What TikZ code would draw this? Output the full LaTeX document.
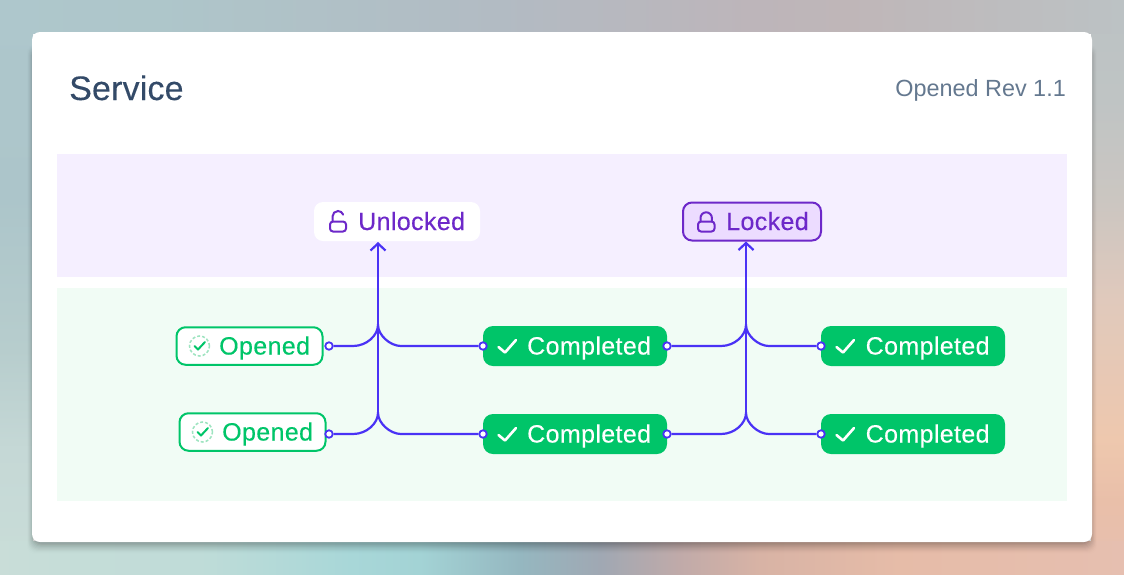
\documentclass[tikz,border=0pt]{standalone}
\usepackage{fontspec}
\setmainfont{Liberation Sans}
\newfontfamily\medfont[LetterSpace=1.5,FakeBold=.25]{Liberation Sans}
\newfontfamily\titlefont[LetterSpace=.5,FakeBold=.2]{Liberation Sans}
\usetikzlibrary{arrows.meta}
\definecolor{cardgreen}{HTML}{00C569}
\definecolor{lightgreen}{HTML}{9EE4C0}
\definecolor{bandgreen}{HTML}{F1FCF5}
\definecolor{bandpurple}{HTML}{F5EFFF}
\definecolor{lockfill}{HTML}{ECDCFF}
\definecolor{purpletext}{HTML}{6D28C9}
\definecolor{linkblue}{HTML}{4A32F5}
\definecolor{titleblue}{HTML}{334A68}
\definecolor{revgray}{HTML}{64788F}
\pgfdeclarehorizontalshading{bgtop}{100bp}{rgb(0bp)=(.682,.78,.8);rgb(25bp)=(.682,.78,.8);rgb(32.1bp)=(.682,.776,.792);rgb(47.2bp)=(.698,.733,.765);rgb(58.4bp)=(.741,.71,.729);rgb(62.8bp)=(.749,.714,.722);rgb(75bp)=(.737,.761,.769);rgb(100bp)=(.737,.761,.769)}
\pgfdeclarehorizontalshading{bgbottom}{100bp}{rgb(0bp)=(.788,.867,.847);rgb(25bp)=(.788,.867,.847);rgb(33.9bp)=(.749,.863,.847);rgb(40.6bp)=(.659,.843,.847);rgb(43.7bp)=(.639,.827,.835);rgb(48.1bp)=(.584,.718,.753);rgb(51.7bp)=(.627,.659,.702);rgb(55.2bp)=(.753,.667,.663);rgb(58.8bp)=(.847,.702,.647);rgb(65bp)=(.902,.737,.659);rgb(75bp)=(.902,.749,.69);rgb(100bp)=(.902,.749,.69)}
\pgfdeclareverticalshading{bgleft}{100bp}{rgb(0bp)=(.788,.867,.847);rgb(25bp)=(.788,.867,.847);rgb(35.8bp)=(.773,.847,.839);rgb(44.5bp)=(.718,.804,.804);rgb(57.6bp)=(.675,.773,.792);rgb(75bp)=(.682,.78,.8);rgb(100bp)=(.682,.78,.8)}
\pgfdeclareverticalshading{bgright}{100bp}{rgb(0bp)=(.902,.749,.69);rgb(25bp)=(.902,.749,.69);rgb(31.4bp)=(.914,.749,.663);rgb(36.7bp)=(.933,.784,.682);rgb(48.9bp)=(.878,.788,.737);rgb(57.6bp)=(.796,.776,.757);rgb(66.3bp)=(.749,.769,.769);rgb(75bp)=(.737,.761,.769);rgb(100bp)=(.737,.761,.769)}
\tikzset{
  lbl/.style={anchor=base west,inner sep=0pt,font=\medfont\fontsize{25}{25}\selectfont},
  pill/.style={rounded corners=9pt,line width=2pt,inner sep=0pt},
  greenpill/.style={pill,draw=cardgreen,fill=white,minimum width=146pt,minimum height=37.5pt},
  donepill/.style={rounded corners=10pt,fill=cardgreen,inner sep=0pt,minimum width=184pt,minimum height=40pt},
  linkdot/.style={circle,draw=linkblue,fill=white,line width=1.8pt,inner sep=0pt,minimum size=7.5pt},
  link/.style={draw=linkblue,line width=2.2pt},
  donecheck/.style={draw=white,line width=2.6pt,line cap=round,line join=round},
  opencheck/.style={draw=cardgreen,line width=2pt,line cap=round,line join=round},
  dashring/.style={draw=lightgreen,line width=1.5pt,dash pattern=on 3pt off 2pt},
  lockline/.style={draw=purpletext,line width=2pt,line cap=round}
}
\begin{document}
\begin{tikzpicture}[x=1pt,y=-1pt]
\useasboundingbox (0,0) rectangle (1124,574);
% background
\shade[shading=bgleft] (0,0) rectangle (33,574);
\shade[shading=bgright] (1091,0) rectangle (1124,574);
\shade[shading=bgtop] (0,0) rectangle (1124,33);
\shade[shading=bgbottom] (0,541) rectangle (1124,574);
% card shadow
\foreach \i in {1,...,12}{
  \pgfmathsetmacro{\shadeop}{.0045*(13-\i)}
  \fill[black,fill opacity=\shadeop,rounded corners=9pt] (35-.7*\i,50-.5*\i) rectangle (1089+.7*\i,541+1.1*\i);
}
\fill[white,rounded corners=8pt] (32,32) rectangle (1092,542);
% bands
\fill[bandpurple] (57,154) rectangle (1067,277);
\fill[bandgreen] (57,288) rectangle (1067,501);
% headings
\node[anchor=base west,inner sep=0pt,text=titleblue,font=\titlefont\fontsize{34}{34}\selectfont] (title) at (69,100) {Service};
\node[anchor=base east,inner sep=0pt,text=revgray,font=\fontsize{23.4}{24}\selectfont] (rev) at (1066,96) {Opened Rev 1.1};
% state nodes
\node[pill,fill=white,minimum width=166pt,minimum height=39pt,draw=none] (unlocked) at (397,221.5) {};
\node[pill,fill=lockfill,draw=purpletext,minimum width=138pt,minimum height=38pt] (locked) at (752,221.5) {};
\node[lbl,text=purpletext] (unlockedt) at (358,230) {Unlocked};
\node[lbl,text=purpletext] (lockedt) at (726,230) {Locked};
\node[greenpill] (op1) at (249.5,346) {};
\node[greenpill] (op2) at (252.5,432) {};
\node[lbl,text=cardgreen] (op1t) at (219,354.5) {Opened};
\node[lbl,text=cardgreen] (op2t) at (222,440.5) {Opened};
\node[donepill] (c1) at (575,346) {};
\node[donepill] (c2) at (575,434) {};
\node[donepill] (c3) at (913,346) {};
\node[donepill] (c4) at (913,434) {};
\foreach \n/\x/\y in {c1/527/354.5,c2/527/442.5,c3/865.5/354.5,c4/865.5/442.5}{
  \node[lbl,text=white] (\n t) at (\x,\y) {Completed};
}
% icons
\foreach \x/\y in {0/0,0/88,338/0,338/88}{
  \draw[donecheck] (498.5+\x,347+\y) -- (505+\x,352.5+\y) -- (516+\x,340+\y);
}
\foreach \x/\y in {199.5/346,202.5/432}{
  \draw[dashring] (\x,\y) circle (10pt);
  \draw[opencheck] (\x-5,\y) -- (\x-1.5,\y+3.5) -- (\x+5.5,\y-4);
}
\draw[lockline,rounded corners=3pt] (330,221.5) rectangle (346,231.5);
\draw[lockline] (332.5,221.5) -- (332.5,216.5) arc[start angle=180,end angle=20,radius=5.5pt];
\draw[lockline,rounded corners=3pt] (698,221.5) rectangle (714.5,231.5);
\draw[lockline] (700.5,221.5) -- (700.5,218) arc[start angle=180,end angle=0,radius=5.7pt] -- (711.9,221.5);
% connector ends
\node[linkdot] (d1) at (329,346) {};
\node[linkdot] (d2) at (329,434) {};
\node[linkdot] (e1) at (483,346) {};
\node[linkdot] (e2) at (483,434) {};
\node[linkdot] (f1) at (667,346) {};
\node[linkdot] (f2) at (667,434) {};
\node[linkdot] (g1) at (821,346) {};
\node[linkdot] (g2) at (821,434) {};
\coordinate (j1) at (378,325);
\coordinate (j2) at (378,413);
\coordinate (k1) at (746,325);
\coordinate (k2) at (746,413);
% connectors
\draw[link] (j2) -- (j1);
\draw[link] (k2) -- (k1);
\draw[link,-{Straight Barb[length=7pt,width=15pt,line width=2.2pt]}] (j1) -- (j1 |- unlocked.south);
\draw[link,-{Straight Barb[length=7pt,width=15pt,line width=2.2pt]}] (k1) -- (k1 |- locked.south);
\foreach \s/\j/\t in {d1/j1/e1,d2/j2/e2,f1/k1/g1,f2/k2/g2}{
  \draw[link] (\s.east) -- ([xshift=-25pt]\j |- \s) .. controls +(14,0) and +(0,10) .. (\j) .. controls +(0,10) and +(-11,0) .. ([xshift=23pt]\j |- \t) -- (\t.west);
}
\end{tikzpicture}
\end{document}
